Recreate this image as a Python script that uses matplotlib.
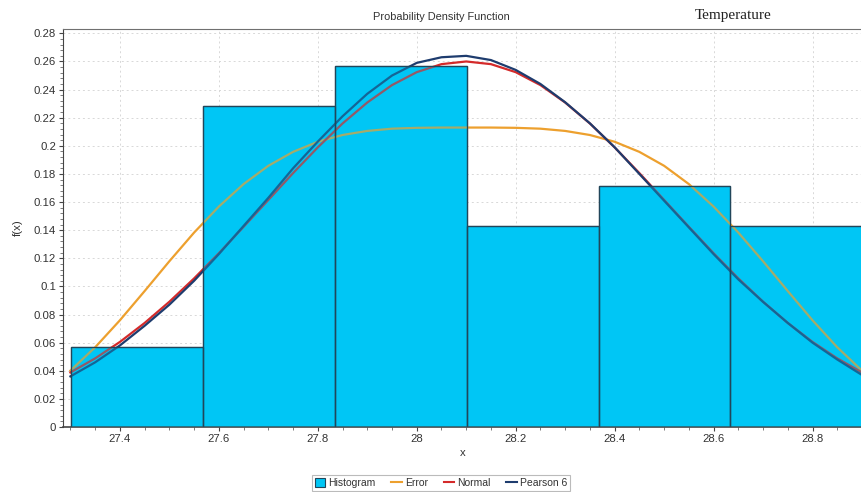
import numpy as np
import matplotlib
matplotlib.use("Agg")
import matplotlib.pyplot as plt
from matplotlib.ticker import MultipleLocator, FuncFormatter
from matplotlib.patches import Patch
from matplotlib.lines import Line2D

# -------------------------------
# Histogram (relative frequencies)
# -------------------------------
bin_edges = [27.302, 27.568, 27.835, 28.101, 28.368, 28.634, 28.900]
hist_heights = [0.0571, 0.2286, 0.2571, 0.1429, 0.1714, 0.1429]

# -------------------------------
# Fitted curves, read off at 0.05 steps
# -------------------------------
x_pts = [27.30, 27.35, 27.40, 27.45, 27.50, 27.55, 27.60, 27.65, 27.70,
         27.75, 27.80, 27.85, 27.90, 27.95, 28.00, 28.05, 28.10, 28.15,
         28.20, 28.25, 28.30, 28.35, 28.40, 28.45, 28.50, 28.55, 28.60,
         28.65, 28.70, 28.75, 28.80, 28.85, 28.90]

error_pdf = [0.0401, 0.0567, 0.0759, 0.0967, 0.1179, 0.1383, 0.1568, 0.1728,
             0.1858, 0.1957, 0.2029, 0.2077, 0.2106, 0.2122, 0.2128, 0.2130,
             0.2130, 0.2130, 0.2128, 0.2122, 0.2106, 0.2077, 0.2029, 0.1957,
             0.1858, 0.1728, 0.1568, 0.1383, 0.1179, 0.0967, 0.0759, 0.0567,
             0.0401]

normal_pdf = [0.0388, 0.0488, 0.0605, 0.0740, 0.0891, 0.1057, 0.1236, 0.1424,
              0.1615, 0.1806, 0.1989, 0.2159, 0.2308, 0.2432, 0.2524, 0.2581,
              0.2600, 0.2581, 0.2524, 0.2432, 0.2308, 0.2159, 0.1989, 0.1806,
              0.1615, 0.1424, 0.1236, 0.1057, 0.0891, 0.0740, 0.0605, 0.0488,
              0.0388]

pearson6_pdf = [0.036, 0.046, 0.058, 0.072, 0.087, 0.104, 0.123, 0.143,
                0.163, 0.184, 0.203, 0.221, 0.237, 0.250, 0.259, 0.263,
                0.264, 0.261, 0.254, 0.244, 0.231, 0.216, 0.199, 0.180,
                0.161, 0.142, 0.123, 0.105, 0.089, 0.074, 0.060, 0.048,
                0.037]

plt.rcParams['font.family'] = ['Liberation Sans', 'DejaVu Sans']

hist_color = '#00C6F5'
edge_color = '#21465a'
err_color = '#EDA02E'
norm_color = '#D42A2A'
p6_color = '#1E3C6E'
text_color = '#333333'

fig = plt.figure(figsize=(8.62, 4.92), dpi=100)
ax = fig.add_axes([63 / 862, 65 / 492, 1 - 63 / 862, 398 / 492])

# histogram bars
lefts = bin_edges[:-1]
widths = np.diff(bin_edges)
ax.bar(lefts, hist_heights, width=widths, align='edge', color=hist_color,
       edgecolor=edge_color, linewidth=0.9, zorder=2)

# curves
ax.plot(x_pts, error_pdf, color=err_color, lw=1.6, zorder=3)
ax.plot(x_pts, normal_pdf, color=norm_color, lw=1.6, zorder=4)
ax.plot(x_pts, pearson6_pdf, color=p6_color, lw=1.6, zorder=5)

# light translucent pass of the bars so curves look tinted where they overlap
ax.bar(lefts, hist_heights, width=widths, align='edge', color=hist_color,
       alpha=0.3, linewidth=0, zorder=6)
ax.bar(lefts, hist_heights, width=widths, align='edge', fill=False,
       edgecolor=edge_color, linewidth=0.9, zorder=7)

ax.set_xlim(27.285, 28.9)
ax.set_ylim(0, 0.2831)

ax.xaxis.set_major_locator(MultipleLocator(0.2))
ax.xaxis.set_minor_locator(MultipleLocator(0.05))
ax.yaxis.set_major_locator(MultipleLocator(0.02))
ax.yaxis.set_minor_locator(MultipleLocator(0.004))


def trim(v, pos):
    s = f"{v:.2f}".rstrip('0').rstrip('.')
    return s if s != '-0' else '0'


def trim_x(v, pos):
    return f"{v:.1f}".rstrip('0').rstrip('.')


ax.yaxis.set_major_formatter(FuncFormatter(trim))
ax.xaxis.set_major_formatter(FuncFormatter(trim_x))

ax.tick_params(axis='both', which='major', labelsize=8.2, colors='#444444',
               labelcolor=text_color, length=3, width=0.8, pad=2)
ax.tick_params(axis='both', which='minor', length=2, width=0.6, colors='#666666')

ax.grid(True, which='major', linestyle=(0, (2, 3)), color='#d8d8d8', lw=0.7, zorder=0)
ax.set_axisbelow(True)

ax.spines['right'].set_visible(False)
ax.spines['top'].set_color('#707070')
ax.spines['left'].set_color('#444444')
ax.spines['bottom'].set_color('#444444')
ax.spines['bottom'].set_linewidth(1.2)

ax.set_xlabel('x', fontsize=8.2, color=text_color, labelpad=3)
ax.set_ylabel('f(x)', fontsize=8.2, color=text_color, labelpad=8)

fig.text(441 / 862, 1 - 17 / 492, 'Probability Density Function', fontsize=7.9,
         color=text_color, ha='center', va='center')
fig.text(733 / 862, 1 - 16 / 492, 'Temperature', fontsize=11,
         family='Liberation Serif', color='#222222', ha='center', va='center')

handles = [
    Patch(facecolor=hist_color, edgecolor=edge_color, linewidth=0.8),
    Line2D([0], [0], color=err_color, lw=1.5),
    Line2D([0], [0], color=norm_color, lw=1.5),
    Line2D([0], [0], color=p6_color, lw=1.5),
]
leg = fig.legend(handles, ['Histogram', 'Error', 'Normal', 'Pearson 6'],
                 loc='center', bbox_to_anchor=(441 / 862, 1 - 483 / 492),
                 ncol=4, fontsize=7.5, frameon=True, fancybox=False,
                 handlelength=1.0, handleheight=0.9, handletextpad=0.3,
                 columnspacing=1.5, borderpad=0.3)
leg.get_frame().set_edgecolor('#aaaaaa')
leg.get_frame().set_linewidth(0.8)
for t in leg.get_texts():
    t.set_color(text_color)

fig.savefig('out.png', dpi=100)
